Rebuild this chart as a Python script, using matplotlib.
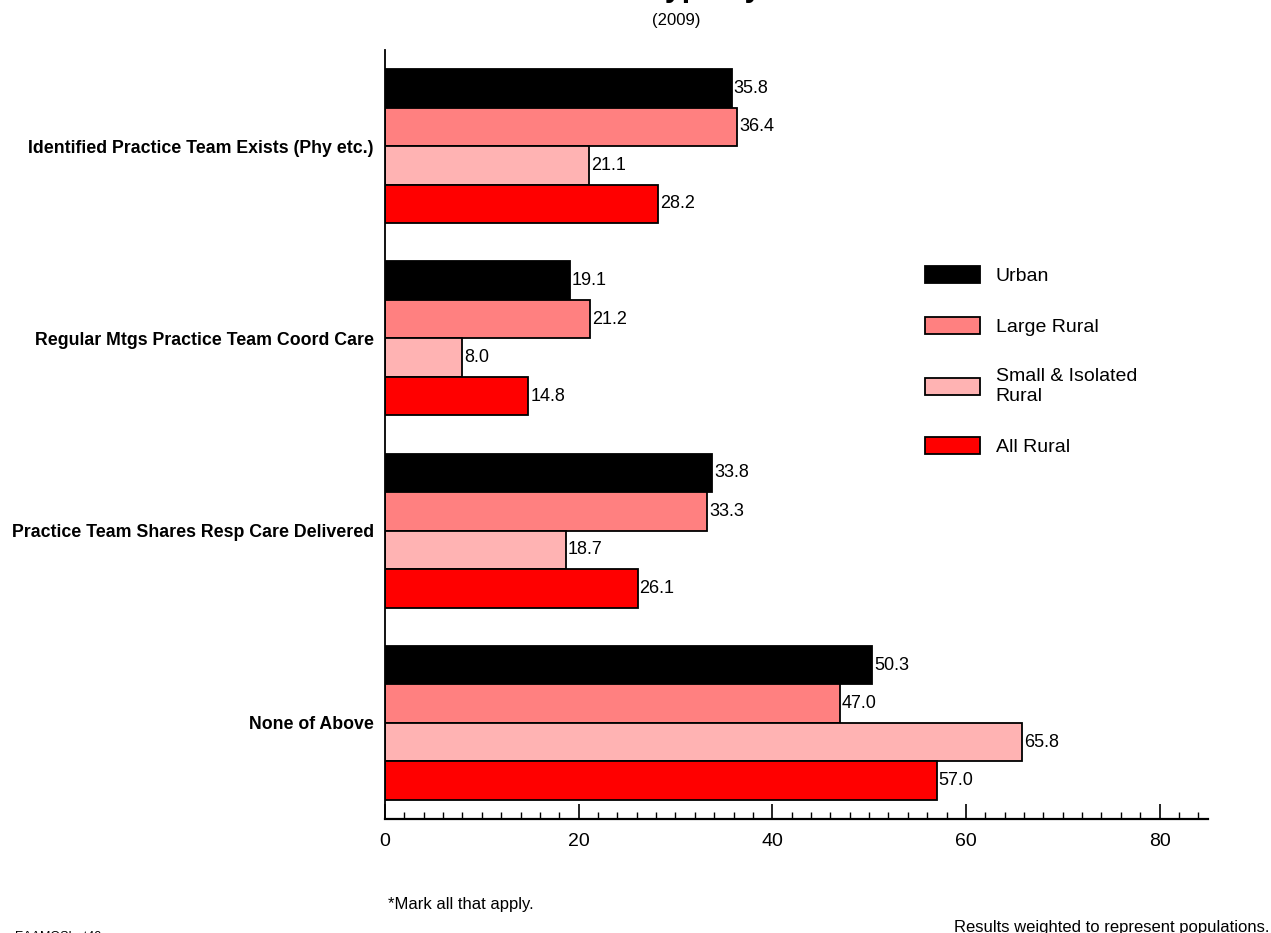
import matplotlib.pyplot as plt
import numpy as np

plt.rcParams['font.family'] = ['Liberation Sans', 'DejaVu Sans']

# datos
categorias = ["Identified Practice Team Exists (Phy etc.)",
              "Regular Mtgs Practice Team Coord Care",
              "Practice Team Shares Resp Care Delivered",
              "None of Above"]
series = ["Urban", "Large Rural", "Small & Isolated\nRural", "All Rural"]
urban = [35.8, 19.1, 33.8, 50.3]
large_rural = [36.4, 21.2, 33.3, 47.0]
small_rural = [21.1, 8.0, 18.7, 65.8]
all_rural = [28.2, 14.8, 26.1, 57.0]
valores = [urban, large_rural, small_rural, all_rural]
colores = ["#000000", "#FF8080", "#FFB3B3", "#FF0000"]

fig = plt.figure(figsize=(12.71, 9.33), dpi=100)
ax = fig.add_axes([0.3029, 0.1222, 0.6475, 0.8242])

y = np.arange(len(categorias))
h = 0.2
for i, (vals, col, nom) in enumerate(zip(valores, colores, series)):
    pos = y - 0.3 + i * h
    ax.barh(pos, vals, height=h, color=col, edgecolor="black", linewidth=1.3, label=nom)
    for p, v in zip(pos, vals):
        ax.text(v + 0.2, p, f"{v:.1f}", va="center", ha="left", fontsize=13)

ax.set_ylim(3.5, -0.5)
ax.set_xlim(0, 85)
ax.set_yticks(y)
ax.set_yticklabels(categorias, fontsize=12.8, fontweight="bold")
ax.tick_params(axis="y", length=0, pad=8)
ax.set_xticks(np.arange(0, 81, 20))
ax.set_xticks(np.arange(0, 85, 2), minor=True)
ax.tick_params(axis="x", which="major", direction="in", length=11, width=1.2, labelsize=14, pad=10)
ax.tick_params(axis="x", which="minor", direction="in", length=5, width=1)
ax.spines["top"].set_visible(False)
ax.spines["right"].set_visible(False)
ax.spines["left"].set_linewidth(1.3)
ax.spines["bottom"].set_linewidth(1.6)

ax.legend(loc="upper left", bbox_to_anchor=(0.656, 0.719), frameon=False,
          fontsize=14, handlelength=2.83, handleheight=0.95, handletextpad=0.82,
          labelspacing=1.65, borderpad=0, borderaxespad=0)

# titulos y notas
fig.text(0.5, 1.004, "Practice Team Type by Area", ha="center", va="baseline",
         fontsize=22, fontweight="bold")
fig.text(0.532, 0.978, "(2009)", ha="center", va="center", fontsize=12)
fig.text(0.305, 0.031, "*Mark all that apply.", ha="left", va="center", fontsize=12)
fig.text(0.999, 0.006, "Results weighted to represent populations.", ha="right", va="center", fontsize=12)
fig.text(0.012, -0.004, "EAAMOSLr-t40", ha="left", va="center", fontsize=9)

fig.savefig("out.png", dpi=100)
